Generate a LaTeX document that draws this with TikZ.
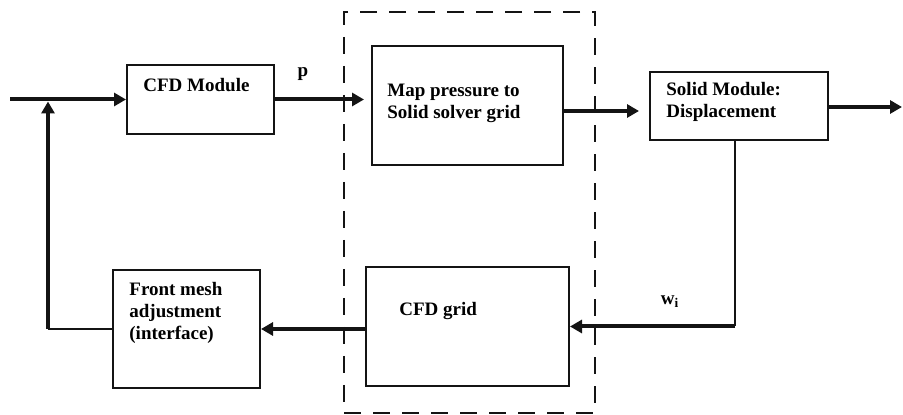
\documentclass[tikz,border=0pt]{standalone}
\usepackage{fontspec}
\setmainfont{Liberation Serif}
\usepackage{tikz}
\usetikzlibrary{arrows.meta,positioning,calc}
\definecolor{LineBlack}{RGB}{20,20,20}
\tikzset{
  blockbox/.style={draw=LineBlack,line width=1pt,inner sep=0pt},
  boxtext/.style={inner sep=0pt,align=left,anchor=north west,font=\fontsize{9.5}{11}\selectfont\bfseries},
  flowarrow/.style={-{Triangle[length=6pt,width=6.5pt]},line width=2pt,draw=LineBlack},
  thinline/.style={line width=1pt,draw=LineBlack},
  dashedframe/.style={draw=LineBlack,line width=1pt,dash pattern=on 8.5pt off 6pt,inner sep=0pt},
  sigtext/.style={inner sep=0pt,font=\fontsize{9.5}{11}\selectfont\bfseries}
}
\begin{document}
\begin{tikzpicture}[x=0.5pt,y=-0.5pt]
\useasboundingbox (0,0) rectangle (903,415);
% blocks
\node[blockbox, minimum width=73.5pt, minimum height=34.5pt,
  label={[boxtext, xshift=8.5pt, yshift=-7pt]north west:CFD Module}] (cfd) at (200.5,99.5) {};
\node[blockbox, minimum width=95.5pt, minimum height=59.5pt,
  label={[boxtext, xshift=8pt, yshift=-19.5pt]north west:Map pressure to\\Solid solver grid}] (map) at (467.5,105.5) {};
\node[blockbox, minimum width=89pt, minimum height=34pt,
  label={[boxtext, xshift=8.5pt, yshift=-5.5pt]north west:Solid Module:\\Displacement}] (solid) at (739,106) {};
\node[blockbox, minimum width=101.5pt, minimum height=59.5pt,
  label={[boxtext, xshift=17pt, yshift=-18pt]north west:CFD grid}] (grid) at (467.5,326.5) {};
\node[blockbox, minimum width=73.5pt, minimum height=59pt,
  label={[boxtext, xshift=8.5pt, yshift=-6.5pt]north west:Front mesh\\adjustment\\(interface)}] (front) at (186.5,329) {};
\node[dashedframe, minimum width=125.5pt, minimum height=200.5pt] (frame) at (469.5,212.5) {};

% free ends
\coordinate (start) at (10,99.5);
\coordinate (join) at (48,99.5);
\coordinate (fbcorner) at (48,329);
\coordinate (out) at (902,107);
\coordinate (mapout) at (563,111);
\coordinate (wcorner) at (735,326.5);

% connectors
\draw[flowarrow] (start) -- (cfd.west);
\draw[flowarrow, shorten >=3.5pt] (cfd.east) -- (cfd.east -| map.west);
\draw[flowarrow, shorten >=5pt] (mapout) -- (mapout -| solid.west);
\draw[flowarrow] (solid.east |- out) -- (out);
\draw[thinline] (solid.south -| wcorner) -- (wcorner);
\draw[flowarrow] (wcorner) -- (grid.east);
\draw[flowarrow] (grid.west |- front.east) -- (front.east);
\draw[thinline] (front.west) -- (fbcorner);
\draw[flowarrow, shorten >=1pt] (fbcorner) -- (join);

% signal labels
\node[sigtext] (plabel) at (303,74) {p};
\node[sigtext] (wlabel) at (670,302) {w\textsubscript{i}};
\end{tikzpicture}
\end{document}
